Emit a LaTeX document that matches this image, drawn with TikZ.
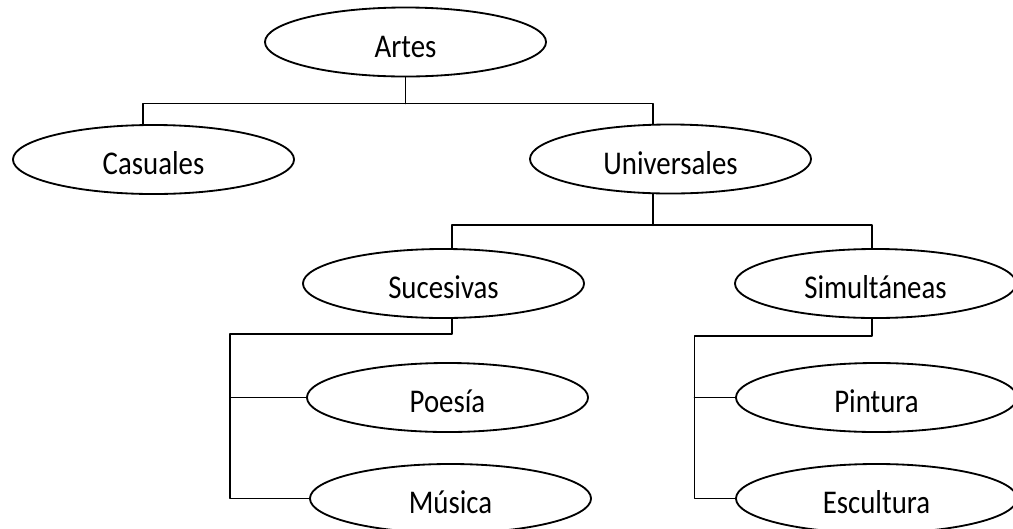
\documentclass[tikz,border=0pt]{standalone}
\usepackage{fontspec}
\setmainfont{Carlito}
\usetikzlibrary{shapes.geometric}
\newcommand{\estira}[1]{\scalebox{1}[1.15]{#1}}

\begin{document}
\begin{tikzpicture}[line cap=round,line join=round,x=0.025cm,y=-0.025cm,
    elipse/.style={draw,ellipse,line width=1.3pt,minimum width=7.025cm,minimum height=1.725cm,inner sep=0pt,
        text height=21.5pt,text depth=0pt,font=\fontsize{20.5}{24}\selectfont},
    rama/.style={line width=1.3pt}]
                \useasboundingbox (0,0) rectangle (1013,528);
                \node[elipse] (artes) at (405.5,42) {\estira{Artes}};
                \node[elipse] (casuales) at (153.5,159.5) {\estira{Casuales}};
                \node[elipse] (universales) at (670.5,159) {\estira{Universales}};
                \node[elipse] (sucesivas) at (443.5,283.5) {\estira{Sucesivas}};
                \node[elipse] (simultaneas) at (875.5,283.5) {\estira{Simultáneas}};
                \node[elipse] (poesia) at (447.5,397.5) {\estira{Poesía}};
                \node[elipse] (musica) at (450.5,498.5) {\estira{Música}};
                \node[elipse] (pintura) at (876.5,397.5) {\estira{Pintura}};
                \node[elipse] (escultura) at (876.5,498.5) {\estira{Escultura}};
                % junctions
                \path (artes.south) ++(0,26) coordinate (j0);
                \path (universales.244) ++(0,31) coordinate (j1);
                \coordinate (j2) at (230,334);
                \coordinate (j3) at (694.5,336);
                % connectors
                \draw [rama] (artes.south) -- (j0);
                \draw [rama] (casuales.107) |- (j0) -| (universales.116);
                \draw [rama] (universales.244) -- (j1);
                \draw [rama] (sucesivas.76) |- (j1) -| (simultaneas.96);
                \draw [rama] (sucesivas.284) |- (j2) |- (musica.west);
                \draw [rama] (j2 |- poesia.west) -- (poesia.west);
                \draw [rama] (simultaneas.264) |- (j3) |- (escultura.west);
                \draw [rama] (j3 |- pintura.west) -- (pintura.west);
            \end{tikzpicture}
\end{document}
